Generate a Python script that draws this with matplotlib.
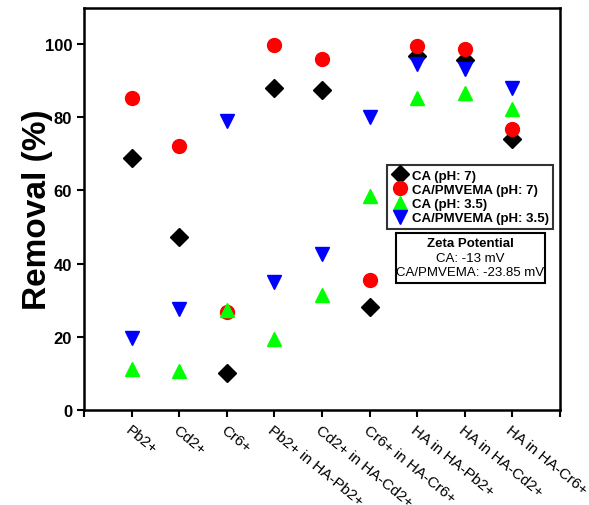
import matplotlib.pyplot as plt
from matplotlib.patches import Rectangle
import numpy as np

plt.rcParams['font.family'] = ['Liberation Sans', 'DejaVu Sans']

labels = ["Pb2+", "Cd2+", "Cr6+", "Pb2+ in HA-Pb2+", "Cd2+ in HA-Cd2+",
          "Cr6+ in HA-Cr6+", "HA in HA-Pb2+", "HA in HA-Cd2+", "HA in HA-Cr6+"]
ca_ph7 = [68.8, 47.4, 10.2, 87.9, 87.6, 28.0, 96.8, 95.6, 74.0]
pmvema_ph7 = [85.4, 72.2, 26.7, 99.9, 96.0, 35.5, 99.5, 98.6, 76.9]
ca_ph35 = [11.3, 10.5, 27.2, 19.3, 31.3, 58.6, 85.4, 86.6, 82.4]
pmvema_ph35 = [19.7, 27.7, 79.0, 34.9, 42.6, 80.0, 94.7, 93.1, 87.9]

x = np.arange(1, len(labels) + 1)

fig = plt.figure(figsize=(5.89, 5.06), dpi=100)
ax = fig.add_axes([0.1426, 0.188, 0.808, 0.795])

ms = 10
ax.plot(x, ca_ph7, 'D', color='black', ms=ms - 1, ls='none', label='CA (pH: 7)')
ax.plot(x, pmvema_ph7, 'o', color='red', ms=ms, ls='none', label='CA/PMVEMA (pH: 7)')
ax.plot(x, ca_ph35, '^', color='#00ff00', ms=ms, ls='none', label='CA (pH: 3.5)')
ax.plot(x, pmvema_ph35, 'v', color='blue', ms=ms, ls='none', label='CA/PMVEMA (pH: 3.5)')

ax.set_xlim(0, 10)
ax.set_ylim(0, 110)
ax.set_xticks(np.arange(0, 11))
ax.set_xticklabels([""] + labels + [""], rotation=-39, ha='left', va='top',
                   rotation_mode='anchor', fontsize=11)
ax.set_yticks([0, 20, 40, 60, 80, 100])
for t in ax.get_yticklabels():
    t.set_fontweight('bold')
    t.set_fontsize(12)
ax.tick_params(axis='both', direction='out', length=5, width=1.5)
ax.tick_params(axis='x', pad=4)
for s in ax.spines.values():
    s.set_linewidth(1.8)

ax.set_ylabel("Removal (%)", fontsize=24, fontweight='bold', labelpad=-6)

leg = ax.legend(loc='upper left', bbox_to_anchor=(0.637, 0.609), frameon=True,
                fancybox=False, edgecolor='black', handletextpad=0.3,
                borderpad=0.35, labelspacing=0.15, handlelength=1.2,
                borderaxespad=0, prop={'weight': 'bold', 'size': 9.5})
leg.get_frame().set_linewidth(1.5)

# zeta potential box
ax.add_patch(Rectangle((0.655, 0.315), 0.313, 0.125, transform=ax.transAxes,
                       fc='white', ec='black', lw=1.5, zorder=5))
ax.text(0.812, 0.415, "Zeta Potential", transform=ax.transAxes, ha='center',
        va='center', fontsize=9.5, fontweight='bold', zorder=6)
ax.text(0.812, 0.378, "CA: -13 mV", transform=ax.transAxes, ha='center',
        va='center', fontsize=9.5, zorder=6)
ax.text(0.812, 0.343, "CA/PMVEMA: -23.85 mV", transform=ax.transAxes, ha='center',
        va='center', fontsize=9.5, zorder=6)

fig.savefig("out.png", dpi=100)
